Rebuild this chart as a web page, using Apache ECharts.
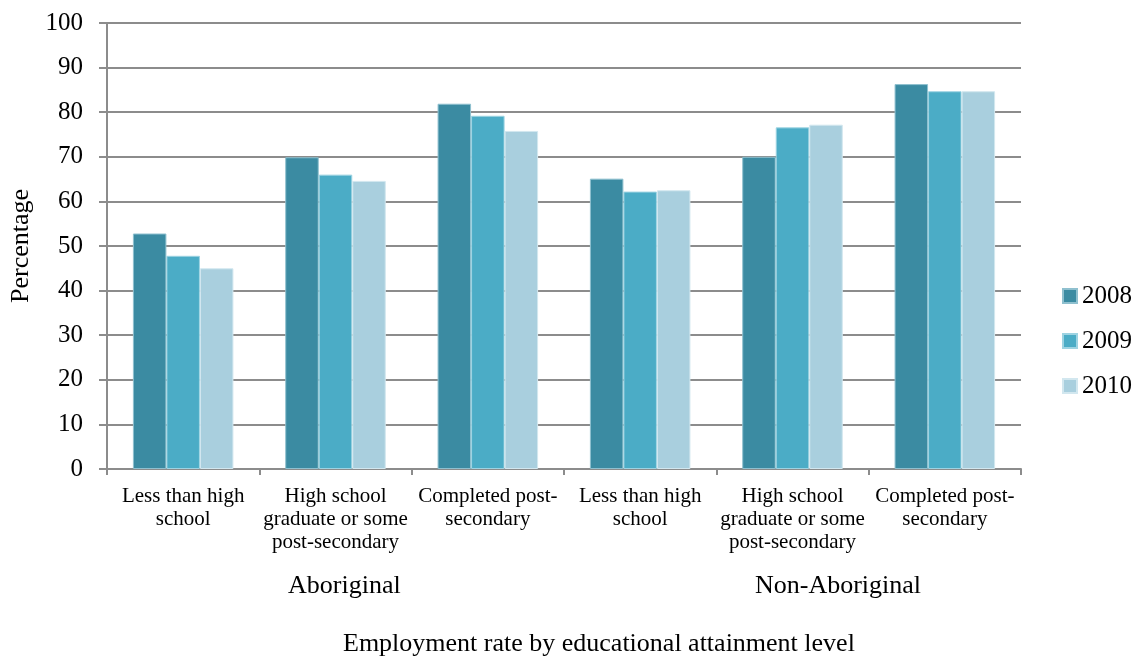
<!DOCTYPE html>
<html>
<head>
<meta charset="utf-8">
<title>Employment rate by educational attainment level</title>
<script src="https://cdn.jsdelivr.net/npm/echarts@6/dist/echarts.min.js"></script>
<style>
  html, body { margin: 0; padding: 0; background: #ffffff; }
  #chart { width: 1138px; height: 659px; }
</style>
</head>
<body>
<div id="chart"></div>
<script>
// Education levels, repeated for the Aboriginal and Non-Aboriginal groups
const categories = [
  'Less than high\nschool',
  'High school\ngraduate or some\npost-secondary',
  'Completed post-\nsecondary',
  'Less than high\nschool',
  'High school\ngraduate or some\npost-secondary',
  'Completed post-\nsecondary'
];
const groupLabels = ['Aboriginal', 'Non-Aboriginal'];
const years = ['2008', '2009', '2010'];

// Employment rate (%) per year
const rate2008 = [52.8, 69.9, 81.9, 65.1, 70.0, 86.3];
const rate2009 = [47.8, 66.0, 79.2, 62.2, 76.6, 84.7];
const rate2010 = [45.0, 64.6, 75.8, 62.5, 77.2, 84.7];

const yTicks = { min: 0, max: 100, interval: 10 };
const xTitle = 'Employment rate by educational attainment level';
const yTitle = 'Percentage';

const serif = '"Liberation Serif", "Times New Roman", serif';
const colors = ['#3b8ba2', '#4bacc6', '#a9cfde'];
const borders = ['#8fc0cf', '#9dd3e2', '#d2e7ef'];

const chart = echarts.init(document.getElementById('chart'), null, { renderer: 'canvas' });

const seriesData = [rate2008, rate2009, rate2010];

chart.setOption({
  animation: false,
  backgroundColor: '#ffffff',
  textStyle: { fontFamily: serif, color: '#000' },
  grid: { left: 107, right: 117, top: 23, bottom: 190, containLabel: false },
  legend: {
    orient: 'vertical',
    left: 1062,
    top: 283,
    padding: 0,
    itemWidth: 14,
    itemHeight: 14,
    itemGap: 19,
    icon: 'rect',
    textStyle: { fontFamily: serif, fontSize: 25, lineHeight: 26, color: '#000' },
    data: years
  },
  xAxis: {
    type: 'category',
    data: categories,
    axisLine: { lineStyle: { color: '#8c8c8c', width: 2 } },
    axisTick: { show: true, interval: 0, length: 6, lineStyle: { color: '#8c8c8c', width: 2 } },
    axisLabel: {
      interval: 0,
      margin: 16,
      fontFamily: serif,
      fontSize: 21,
      lineHeight: 23,
      color: '#000',
      align: 'center'
    }
  },
  yAxis: {
    type: 'value',
    min: yTicks.min,
    max: yTicks.max,
    interval: yTicks.interval,
    name: yTitle,
    nameLocation: 'middle',
    nameGap: 72,
    nameRotate: 90,
    nameTextStyle: { fontFamily: serif, fontSize: 26, color: '#000' },
    axisLine: { show: true, lineStyle: { color: '#8c8c8c', width: 2 } },
    axisTick: { show: true, length: 8, lineStyle: { color: '#8c8c8c', width: 2 } },
    axisLabel: { fontFamily: serif, fontSize: 25, color: '#000', margin: 24 },
    splitLine: { show: true, lineStyle: { color: '#8c8c8c', width: 2 } }
  },
  series: years.map((y, i) => ({
    name: y,
    type: 'bar',
    data: seriesData[i],
    barGap: '0%',
    barCategoryGap: '34%',
    itemStyle: { color: colors[i], borderColor: borders[i], borderWidth: 1 }
  })),
  graphic: [
    {
      type: 'text', left: 288, top: 573,
      style: { text: groupLabels[0], font: '26px ' + serif, fill: '#000' }
    },
    {
      type: 'text', left: 755, top: 573,
      style: { text: groupLabels[1], font: '26px ' + serif, fill: '#000' }
    },
    {
      type: 'text', left: 343, top: 631,
      style: { text: xTitle, font: '26px ' + serif, fill: '#000' }
    }
  ]
});
</script>
</body>
</html>
